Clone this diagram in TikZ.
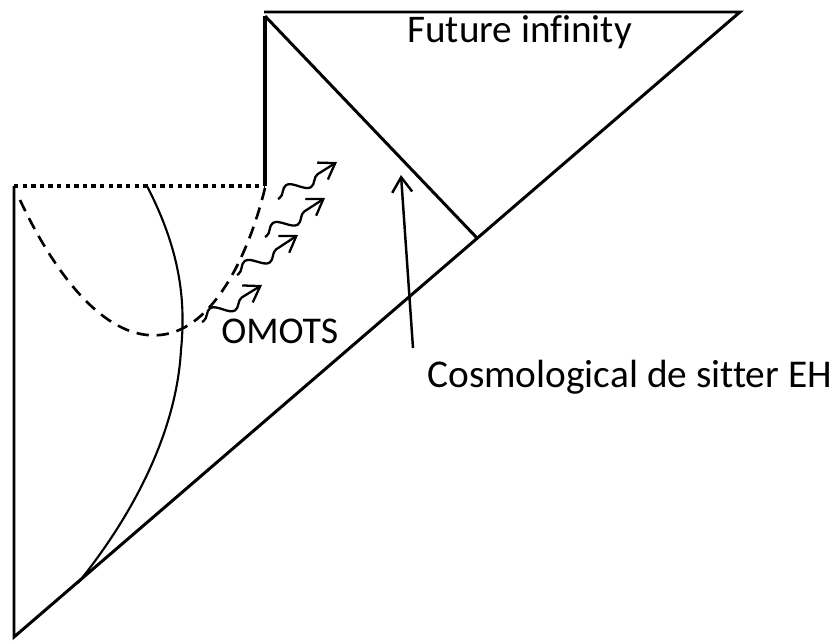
\documentclass[tikz,border=0pt]{standalone}
\usepackage{fontspec}
\setmainfont[Ligatures=NoCommon]{Carlito}
\usetikzlibrary{arrows.meta,decorations.pathmorphing}

\begin{document}
\begin{tikzpicture}[x=0.02cm,y=-0.02cm,
  ln/.style={line width=1.7pt,line join=miter},
  thk/.style={line width=2.8pt},
  dots/.style={line width=2.5pt,dash pattern=on 2.5pt off 2.4pt},
  dsh/.style={line width=1.5pt,dash pattern=on 7pt off 4.5pt},
  wav/.style={line width=1.3pt,-{Straight Barb[length=3mm,width=4mm]},
    decorate,decoration={snake,segment length=0.8cm,amplitude=0.15cm,pre length=1pt,post length=8pt}},
  lbl/.style={inner sep=0pt,anchor=base west}]
\useasboundingbox (0,0) rectangle (835,640);
% corners of the diagram
\coordinate (bot) at (14,637);
\coordinate (tr) at (740,12);
\coordinate (tl) at (264,12);
\coordinate (tv) at (265,16);
\coordinate (mid) at (265,186);
\coordinate (lt) at (14,186);
\coordinate (eh) at (477,238);
\draw[ln] (lt) -- (bot) -- (tr) -- (tl);
\draw[thk] (tv) -- (mid);
\draw[ln] (tv) -- (eh);
\draw[dots] (lt) -- (mid);
% trajectory and OMOTS
\draw[line width=1.2pt] (147,186) .. controls (180,250) and (186,300) .. (181,350)
  .. controls (176,440) and (125,525) .. (78,583);
\draw[dsh] (20,200) .. controls (60,285) and (110,340) .. (160,335)
  .. controls (215,330) and (250,250) .. (265,188);
% wavy arrows
\foreach \xa/\ya/\xb/\yb in {278/199/337/162,265/237/325/198,237/275/298/235,202/322/262/285}
  \draw[wav] (\xa,\ya) -- (\xb,\yb);
% labels
\node[lbl,font=\fontsize{22.3}{26}\selectfont] (fut) at (407,42) {Future infinity};
\node[lbl,font=\fontsize{21.5}{26}\selectfont] (omots) at (221,343) {OMOTS};
\node[lbl,font=\fontsize{22.4}{26}\selectfont] (cos) at (427,387) {Cosmological de sitter EH};
\coordinate (tip) at (401,175);
\coordinate (foot) at (413,348);
\draw[line width=1.4pt,-{Straight Barb[length=3mm,width=4mm]}] (foot) -- (tip);
\end{tikzpicture}
\end{document}
